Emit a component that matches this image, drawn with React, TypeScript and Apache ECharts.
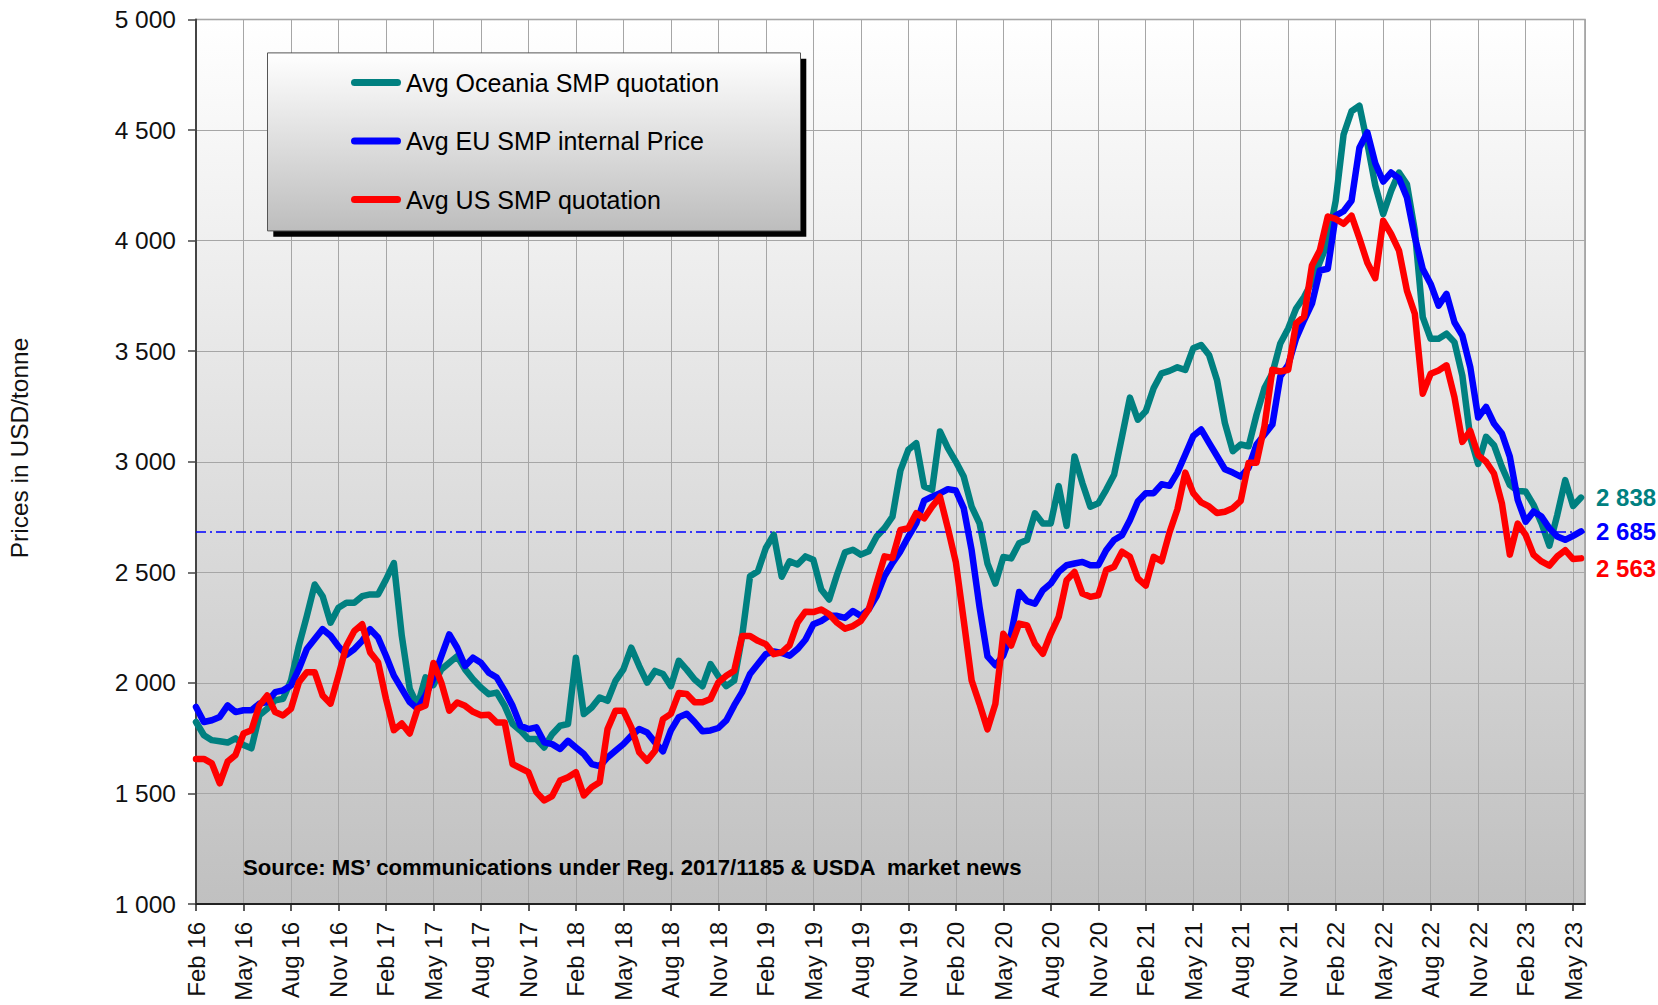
import React, { useEffect, useRef } from 'react';
import * as echarts from 'echarts';

// x positions are half-month steps starting at Feb 16 (index 0); a tick every 6 steps (3 months)
const xTickLabels = [
  'Feb 16', 'May 16', 'Aug 16', 'Nov 16', 'Feb 17', 'May 17', 'Aug 17', 'Nov 17',
  'Feb 18', 'May 18', 'Aug 18', 'Nov 18', 'Feb 19', 'May 19', 'Aug 19', 'Nov 19',
  'Feb 20', 'May 20', 'Aug 20', 'Nov 20', 'Feb 21', 'May 21', 'Aug 21', 'Nov 21',
  'Feb 22', 'May 22', 'Aug 22', 'Nov 22', 'Feb 23', 'May 23',
];

const oceania = [
  1823, 1763, 1741, 1736, 1730, 1749, 1719, 1704, 1853, 1883, 1921, 1928,
  2010, 2168, 2302, 2445, 2392, 2272, 2340, 2362, 2362, 2392, 2400, 2400,
  2467, 2542, 2213, 1973, 1898, 2025, 1990, 2061, 2091, 2121, 2061, 2016,
  1979, 1949, 1956, 1896, 1814, 1784, 1746, 1746, 1708, 1768, 1806, 1814,
  2114, 1859, 1889, 1934, 1919, 2009, 2061, 2159, 2076, 2001, 2054, 2040,
  1985, 2100, 2060, 2015, 1985, 2085, 2030, 1985, 2010, 2210, 2482, 2505,
  2610, 2670, 2480, 2550, 2535, 2572, 2557, 2422, 2377, 2490, 2590, 2602,
  2580, 2595, 2662, 2700, 2752, 2960, 3054, 3084, 2888, 2873, 3137, 3062,
  3001, 2933, 2797, 2721, 2540, 2449, 2569, 2563, 2631, 2646, 2767, 2721,
  2721, 2890, 2710, 3024, 2903, 2797, 2812, 2873, 2941, 3114, 3290, 3190,
  3228, 3333, 3400, 3411, 3427, 3415, 3513, 3528, 3483, 3370, 3175, 3048,
  3078, 3070, 3213, 3333, 3400, 3535, 3603, 3693, 3745, 3813, 3903, 3993,
  4180, 4480, 4585, 4610, 4440, 4250, 4120, 4225, 4308, 4255, 4045, 3654,
  3556, 3556, 3579, 3541, 3390, 3110, 2990, 3113, 3075, 2977, 2895, 2868,
  2865, 2805, 2722, 2620, 2760, 2917, 2800, 2838,
];

const eu = [
  1891, 1823, 1831, 1846, 1898, 1868, 1876, 1876, 1906, 1913, 1958, 1966,
  1988, 2063, 2153, 2198, 2243, 2213, 2165, 2126, 2153, 2190, 2243, 2205,
  2123, 2033, 1973, 1913, 1883, 1943, 2020, 2121, 2219, 2159, 2076, 2114,
  2091, 2046, 2024, 1964, 1896, 1806, 1791, 1799, 1731, 1723, 1701, 1738,
  1708, 1678, 1633, 1623, 1663, 1693, 1723, 1761, 1791, 1776, 1731, 1690,
  1785, 1845, 1860, 1823, 1781, 1785, 1796, 1830, 1898, 1958, 2040, 2085,
  2130, 2142, 2135, 2123, 2153, 2195, 2265, 2280, 2303, 2303, 2294, 2325,
  2303, 2333, 2393, 2483, 2543, 2595, 2661, 2721, 2824, 2842, 2857, 2876,
  2870, 2790, 2600, 2343, 2120, 2080, 2124, 2222, 2411, 2370, 2358, 2419,
  2449, 2502, 2532, 2540, 2547, 2532, 2532, 2600, 2646, 2668, 2736, 2820,
  2858, 2858, 2898, 2891, 2951, 3033, 3116, 3146, 3085, 3026, 2966, 2951,
  2933, 2973, 3078, 3123, 3168, 3386, 3438, 3558, 3640, 3715, 3865, 3873,
  4113, 4133, 4180, 4420, 4490, 4350, 4267, 4308, 4282, 4195, 4015, 3872,
  3804, 3706, 3759, 3631, 3571, 3428, 3200, 3248, 3173, 3128, 3023, 2827,
  2729, 2775, 2752, 2699, 2662, 2647, 2665, 2685,
];

const us = [
  1656, 1656, 1636, 1546, 1644, 1674, 1771, 1786, 1898, 1943, 1868, 1853,
  1883, 2003, 2048, 2048, 1943, 1906, 2033, 2168, 2235, 2265, 2138, 2093,
  1928, 1786, 1816, 1771, 1883, 1898, 2090, 2001, 1874, 1911, 1896, 1869,
  1854, 1856, 1821, 1821, 1633, 1614, 1596, 1506, 1468, 1488, 1558, 1573,
  1596, 1491, 1528, 1551, 1791, 1874, 1874, 1799, 1686, 1648, 1693, 1836,
  1860, 1954, 1950, 1912, 1912, 1927, 2002, 2032, 2055, 2212, 2212, 2190,
  2175, 2130, 2138, 2170, 2272, 2322, 2320, 2332, 2310, 2272, 2245, 2257,
  2280, 2332, 2452, 2572, 2565, 2692, 2699, 2767, 2744, 2797, 2842, 2699,
  2547, 2283, 2011, 1905, 1790, 1905, 2222, 2169, 2268, 2260, 2177, 2132,
  2222, 2298, 2464, 2502, 2404, 2389, 2396, 2510, 2525, 2593, 2570, 2472,
  2440, 2570, 2550, 2680, 2785, 2951, 2858, 2816, 2798, 2768, 2774, 2790,
  2823, 2996, 2996, 3161, 3416, 3408, 3416, 3626, 3656, 3888, 3956, 4109,
  4098, 4076, 4113, 4010, 3900, 3830, 4090, 4030, 3955, 3774, 3669, 3308,
  3398, 3413, 3436, 3293, 3090, 3140, 3030, 3000, 2947, 2812, 2580, 2720,
  2669, 2579, 2549, 2530, 2572, 2600, 2560, 2563,
];

const seriesNames = ['Avg Oceania SMP quotation', 'Avg EU SMP internal Price', 'Avg US SMP quotation'];
const seriesColors = ['#008080', '#0000ff', '#ff0000'];
const referenceLevel = 2685;
const yMin = 1000;
const yMax = 5000;
const yStep = 500;
const yTitle = 'Prices in USD/tonne';
const sourceNote = 'Source: MS\u2019 communications under Reg. 2017/1185 & USDA  market news';

const FONT = '"Liberation Sans", Arial, Helvetica, sans-serif';

function fmt(v: number): string {
  return String(Math.round(v)).replace(/\B(?=(\d{3})+(?!\d))/g, ' ');
}

export default function App() {
  const ref = useRef<HTMLDivElement>(null);

  useEffect(() => {
    document.body.style.margin = '0';
    document.body.style.overflow = 'hidden';
    const chart = echarts.init(ref.current as HTMLDivElement, null, { renderer: 'svg' });
    const lists = [oceania, eu, us];
    const endOffsets = [[0, 0], [0, 0], [0, 10]];

    const series: any[] = [
      {
        type: 'line',
        name: '',
        data: [],
        z: 1,
        silent: true,
        markLine: {
          silent: true,
          symbol: ['none', 'none'],
          label: { show: false },
          lineStyle: { color: '#0000ff', width: 1.5, type: [10, 4, 2, 4] },
          data: [{ yAxis: referenceLevel }],
        },
      },
    ];
    lists.forEach((vals, k) => {
      series.push({
        type: 'line',
        name: seriesNames[k],
        data: vals.map((v, i) => [i, v]),
        showSymbol: false,
        symbol: 'none',
        z: 3 + k,
        itemStyle: { color: seriesColors[k] },
        lineStyle: { width: 6.5, color: seriesColors[k], cap: 'round', join: 'round' },
        endLabel: {
          show: true,
          formatter: (p: any) => fmt(p.value[1]),
          color: seriesColors[k],
          fontSize: 24,
          fontWeight: 'bold',
          fontFamily: FONT,
          distance: 15,
          offset: endOffsets[k],
        },
      });
    });

    chart.setOption({
      animation: false,
      textStyle: { fontFamily: FONT },
      grid: {
        left: 196,
        right: 73,
        top: 19.5,
        bottom: 101,
        show: true,
        backgroundColor: new echarts.graphic.LinearGradient(0, 0, 0, 1, [
          { offset: 0, color: '#ffffff' },
          { offset: 1, color: '#c0c0c0' },
        ]),
        borderColor: '#999999',
        borderWidth: 1.5,
      },
      legend: {
        orient: 'vertical',
        left: 346,
        top: 65,
        itemWidth: 50,
        itemHeight: 7,
        itemGap: 33.5,
        z: 20,
        selectedMode: false,
        data: seriesNames,
        icon: 'path://M3.5,0 L46.5,0 A3.5,3.5 0 0 1 46.5,7 L3.5,7 A3.5,3.5 0 0 1 3.5,0 Z',
        textStyle: { fontSize: 25, color: '#000', lineHeight: 24, fontFamily: FONT },
      },
      xAxis: {
        type: 'value',
        min: 0,
        max: 175.5,
        interval: 6,
        axisLine: { show: true, onZero: false, lineStyle: { color: '#222', width: 2 } },
        axisTick: { show: true, length: 7, lineStyle: { color: '#222', width: 1.5 } },
        axisLabel: {
          rotate: 90,
          margin: 18,
          fontSize: 24,
          color: '#111',
          fontFamily: FONT,
          showMaxLabel: false,
          formatter: (v: number) => (v % 6 === 0 ? xTickLabels[v / 6] ?? '' : ''),
        },
        splitLine: { show: true, lineStyle: { color: '#a6a6a6', width: 1 } },
      },
      yAxis: {
        type: 'value',
        min: yMin,
        max: yMax,
        interval: yStep,
        axisLine: { show: true, lineStyle: { color: '#444', width: 2 } },
        axisTick: { show: true, length: 8, lineStyle: { color: '#444', width: 1.5 } },
        axisLabel: { fontSize: 24.5, margin: 20, color: '#111', fontFamily: FONT, formatter: (v: number) => fmt(v) },
        splitLine: { show: true, lineStyle: { color: '#a6a6a6', width: 1 } },
      },
      graphic: [
        {
          type: 'text',
          z: 12,
          x: 19,
          y: 448,
          rotation: Math.PI / 2,
          silent: true,
          style: {
            text: yTitle,
            fontSize: 24.5,
            fontFamily: FONT,
            fill: '#111',
            align: 'center',
            verticalAlign: 'middle',
          },
        },
        {
          type: 'rect',
          z: 10,
          shape: { x: 273.3, y: 58.7, width: 533, height: 178 },
          style: { fill: '#000000' },
          silent: true,
        },
        {
          type: 'rect',
          z: 11,
          shape: { x: 267.5, y: 52.9, width: 533, height: 178 },
          style: {
            fill: new echarts.graphic.LinearGradient(0, 0, 0, 1, [
              { offset: 0, color: '#ffffff' },
              { offset: 1, color: '#bdbdbd' },
            ]),
            stroke: '#555555',
            lineWidth: 1,
          },
          silent: true,
        },
        {
          type: 'text',
          z: 12,
          x: 243,
          y: 867,
          silent: true,
          style: {
            text: sourceNote,
            fontSize: 22.2,
            fontWeight: 'bold',
            fontFamily: FONT,
            fill: '#000',
            verticalAlign: 'middle',
          },
        },
      ],
      series,
    });
    return () => chart.dispose();
  }, []);

  return <div ref={ref} style={{ width: 1658, height: 1005 }} />;
}
